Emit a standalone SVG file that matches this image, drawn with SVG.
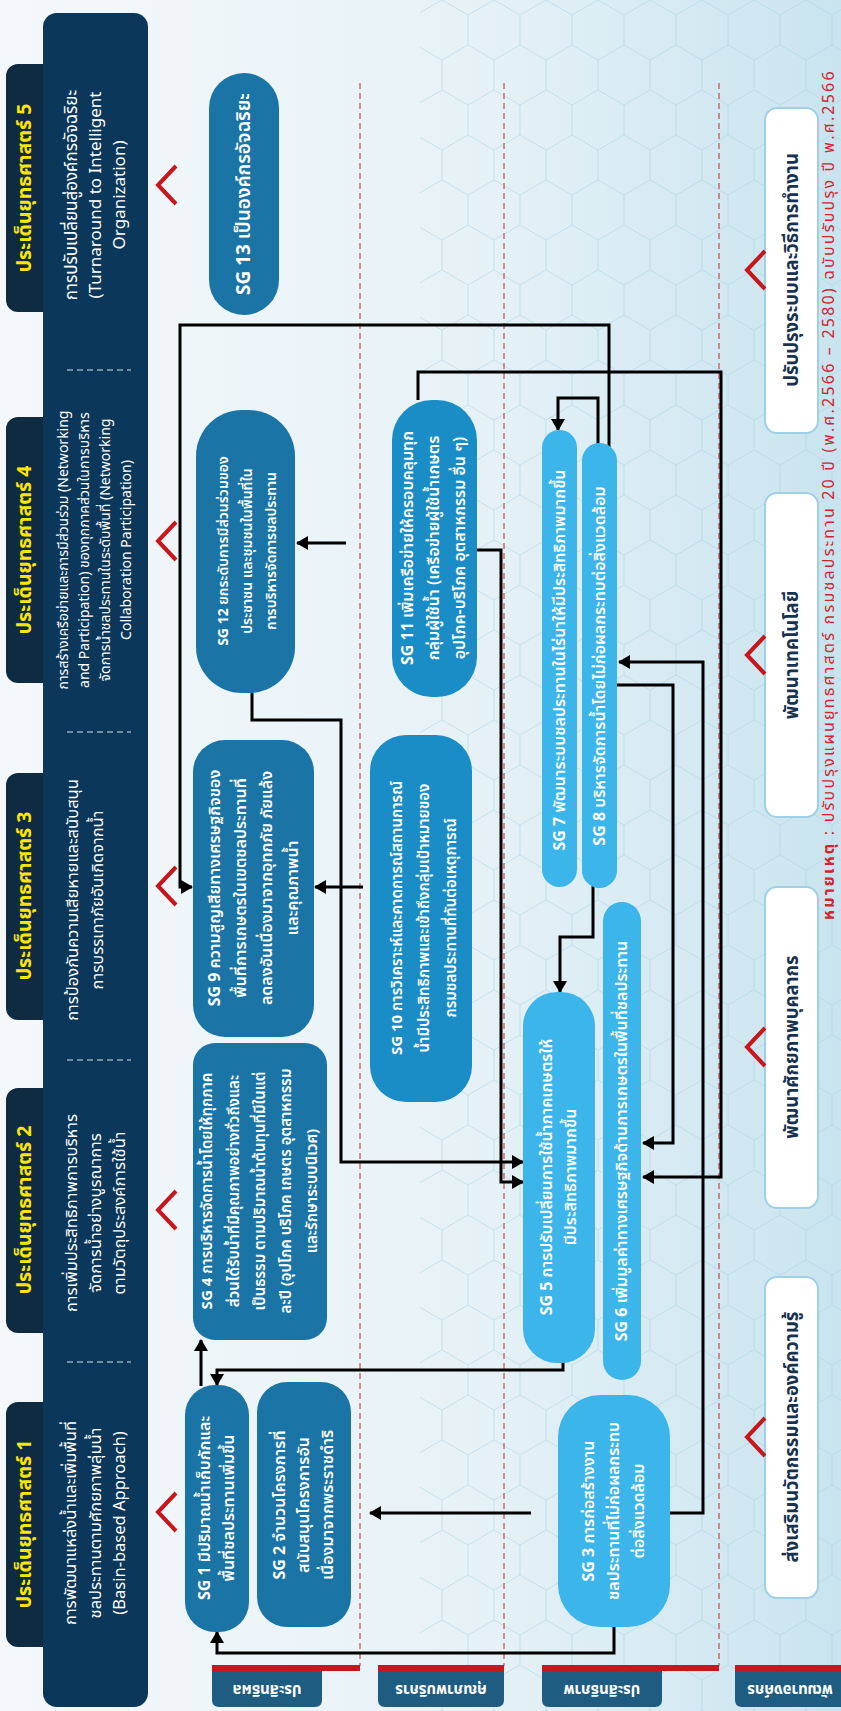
<svg xmlns="http://www.w3.org/2000/svg" width="841" height="1711" viewBox="0 0 841 1711">
<defs>
<linearGradient id="bg" x1="0" y1="0" x2="1" y2="0">
<stop offset="0" stop-color="#f4f8fb"/>
<stop offset="0.55" stop-color="#e7f2f7"/>
<stop offset="1" stop-color="#c9e4ef"/>
</linearGradient>
<pattern id="hex" width="52" height="90" patternUnits="userSpaceOnUse">
<path d="M26,0 L52,15 L52,45 L26,60 L0,45 L0,15 Z M26,60 L26,90" fill="none" stroke="#a3d0e1" stroke-width="1"/>
</pattern>
<marker id="ah" viewBox="0 0 12 14" refX="11" refY="7" markerWidth="12" markerHeight="14" markerUnits="userSpaceOnUse" orient="auto">
<path d="M0,0 L12,7 L0,14 Z" fill="#000"/>
</marker>
<style>
text, tspan { font-family: "Noto Sans Thai", "Noto Sans", "DejaVu Sans", sans-serif; dominant-baseline: central; }
.hdr { fill: #ffe600; font-weight: bold; font-size: 19.5px; text-anchor: middle; }
.desc { fill: #ffffff; font-size: 16.5px; text-anchor: middle; }
.sg { fill: #ffffff; font-size: 16px; font-weight: 600; text-anchor: middle; }
.b { font-weight: bold; }
.lbl { fill: #ffffff; font-size: 15px; font-weight: bold; text-anchor: middle; }
.btm { fill: #17324f; font-size: 18.5px; font-weight: bold; text-anchor: middle; }
.foot { fill: #d0262c; font-size: 16px; letter-spacing: 2.2px; }
.tab { fill: #0e2b41; }
.col { fill: #0b375a; }
.sep { stroke: #ffffff; stroke-width: 1.2; stroke-dasharray: 6 4; opacity: 0.85; }
.chev { fill: none; stroke: #c8161d; stroke-width: 4; }
.dash { stroke: #c62828; stroke-width: 1; stroke-dasharray: 6 4; }
.dk { fill: #1a74a5; }
.md { fill: #1b8dc6; }
.lt { fill: #3cb5ea; }
.wb { fill: #ffffff; stroke: #9fd0e6; stroke-width: 2; }
.rl { fill: #1e5c82; }
.rb { fill: #c8161d; }
.cn { fill: none; stroke: #000; stroke-width: 3; }
</style>
</defs>

<rect x="0" y="0" width="841" height="1711" fill="url(#bg)"/>
<rect x="420" y="0" width="421" height="1711" fill="url(#hex)" opacity="0.5"/>

<!-- strategy column -->
<g id="strategies">
<rect class="tab" x="6" y="64" width="50" height="248" rx="12"/>
<rect class="tab" x="6" y="417" width="50" height="266" rx="12"/>
<rect class="tab" x="6" y="773" width="50" height="247" rx="12"/>
<rect class="tab" x="6" y="1088" width="50" height="245" rx="12"/>
<rect class="tab" x="6" y="1402" width="50" height="245" rx="12"/>
<rect class="col" x="43" y="13" width="105" height="1694" rx="14"/>
<line class="sep" x1="67" y1="370" x2="131" y2="370"/>
<line class="sep" x1="67" y1="732" x2="131" y2="732"/>
<line class="sep" x1="67" y1="1060" x2="131" y2="1060"/>
<line class="sep" x1="67" y1="1362" x2="131" y2="1362"/>

<g id="s5">
<text class="hdr" transform="translate(25,188) rotate(-90)">ประเด็นยุทธศาสตร์ 5</text>
<text class="desc" transform="translate(95,195) rotate(-90)" style="font-size:17px"><tspan x="0" y="-23">การปรับเปลี่ยนสู่องค์กรอัจฉริยะ</tspan><tspan x="0" y="1">(Turnaround to Intelligent</tspan><tspan x="0" y="25">Organization)</tspan></text>
<polyline class="chev" points="176,166 158,185 176,204"/>
</g>
<g id="s4">
<text class="hdr" transform="translate(25,550) rotate(-90)">ประเด็นยุทธศาสตร์ 4</text>
<text class="desc" transform="translate(95,550) rotate(-90)" style="font-size:14px"><tspan x="0" y="-32">การสร้างเครือข่ายและการมีส่วนร่วม (Networking</tspan><tspan x="0" y="-11">and Participation) ของทุกภาคส่วนในการบริหาร</tspan><tspan x="0" y="10">จัดการน้ำชลประทานในระดับพื้นที่ (Networking</tspan><tspan x="0" y="31">Collaboration Participation)</tspan></text>
<polyline class="chev" points="176,522 158,541 176,560"/>
</g>
<g id="s3">
<text class="hdr" transform="translate(25,896) rotate(-90)">ประเด็นยุทธศาสตร์ 3</text>
<text class="desc" transform="translate(85,900) rotate(-90)"><tspan x="0" y="-13">การป้องกันความเสียหายและสนับสนุน</tspan><tspan x="0" y="12">การบรรเทาภัยอันเกิดจากน้ำ</tspan></text>
<polyline class="chev" points="176,867 158,886 176,905"/>
</g>
<g id="s2">
<text class="hdr" transform="translate(25,1210) rotate(-90)">ประเด็นยุทธศาสตร์ 2</text>
<text class="desc" transform="translate(95,1213) rotate(-90)"><tspan x="0" y="-24">การเพิ่มประสิทธิภาพการบริหาร</tspan><tspan x="0" y="0">จัดการน้ำอย่างบูรณาการ</tspan><tspan x="0" y="24">ตามวัตถุประสงค์การใช้น้ำ</tspan></text>
<polyline class="chev" points="176,1191 158,1210 176,1229"/>
</g>
<g id="s1">
<text class="hdr" transform="translate(25,1524) rotate(-90)">ประเด็นยุทธศาสตร์ 1</text>
<text class="desc" transform="translate(95,1523) rotate(-90)"><tspan x="0" y="-25">การพัฒนาแหล่งน้ำและเพิ่มพื้นที่</tspan><tspan x="0" y="0">ชลประทานตามศักยภาพลุ่มน้ำ</tspan><tspan x="0" y="24">(Basin-based Approach)</tspan></text>
<polyline class="chev" points="176,1493 158,1512 176,1531"/>
</g>
</g>

<!-- row dividers -->
<g id="dividers">
<line class="dash" x1="360" y1="83" x2="360" y2="1666"/>
<line class="dash" x1="504" y1="83" x2="504" y2="1666"/>
<line class="dash" x1="719" y1="83" x2="719" y2="1666"/>
</g>

<!-- connectors -->
<g id="connectors">
<path class="cn" d="M609,447 V325 H180 V887 H192" marker-end="url(#ah)"/>
<path class="cn" d="M598,447 V398 H558 V430" marker-end="url(#ah)"/>
<path class="cn" d="M346,543 H297" marker-end="url(#ah)"/>
<path class="cn" d="M418,400 V372 H721 V1177 H643" marker-end="url(#ah)"/>
<path class="cn" d="M477,550 H501 V1182 H523" marker-end="url(#ah)"/>
<path class="cn" d="M252,693 V720 H341 V1162 H523" marker-end="url(#ah)"/>
<path class="cn" d="M363,887 H315" marker-end="url(#ah)"/>
<path class="cn" d="M593,886 V937 H560 V992" marker-end="url(#ah)"/>
<path class="cn" d="M617,685 H673 V1143 H643" marker-end="url(#ah)"/>
<path class="cn" d="M670,1513 H703 V662 H619" marker-end="url(#ah)"/>
<path class="cn" d="M563,1360 V1370 H217 V1385" marker-end="url(#ah)"/>
<path class="cn" d="M201,1386 V1340" marker-end="url(#ah)"/>
<path class="cn" d="M531,1513 H370" marker-end="url(#ah)"/>
<path class="cn" d="M614,1626 V1653 H217 V1632" marker-end="url(#ah)"/>
</g>

<!-- nodes -->
<g id="sg13">
<rect class="dk" x="209" y="73" width="70" height="242" rx="35"/>
<text class="sg" transform="translate(244,194) rotate(-90)" style="font-size:19px"><tspan class="b">SG 13</tspan> เป็นองค์กรอัจฉริยะ</text>
</g>
<g id="sg12">
<rect class="dk" x="196" y="410" width="99" height="283" rx="46"/>
<text class="sg" transform="translate(247,551) rotate(-90)" style="font-size:14px"><tspan x="0" y="-24"><tspan class="b">SG 12</tspan> ยกระดับการมีส่วนร่วมของ</tspan><tspan x="0" y="0">ประชาชน และชุมชนในพื้นที่ใน</tspan><tspan x="0" y="24">การบริหารจัดการชลประทาน</tspan></text>
</g>
<g id="sg11">
<rect class="md" x="392" y="400" width="85" height="297" rx="40"/>
<text class="sg" transform="translate(434,548) rotate(-90)" style="font-size:16px"><tspan x="0" y="-26"><tspan class="b">SG 11</tspan> เพิ่มเครือข่ายให้ครอบคลุมทุก</tspan><tspan x="0" y="0">กลุ่มผู้ใช้น้ำ (เครือข่ายผู้ใช้น้ำเกษตร</tspan><tspan x="0" y="26">อุปโภค-บริโภค อุตสาหกรรม อื่น ๆ)</tspan></text>
</g>
<g id="sg9">
<rect class="dk" x="193" y="740" width="121" height="297" rx="32"/>
<text class="sg" transform="translate(254,888) rotate(-90)" style="font-size:16px"><tspan x="0" y="-39"><tspan class="b">SG 9</tspan> ความสูญเสียทางเศรษฐกิจของ</tspan><tspan x="0" y="-13">พื้นที่การเกษตรในเขตชลประทานที่</tspan><tspan x="0" y="13">ลดลงอันเนื่องมาจากอุทกภัย ภัยแล้ง</tspan><tspan x="0" y="39">และคุณภาพน้ำ</tspan></text>
</g>
<g id="sg10">
<rect class="md" x="370" y="735" width="102" height="367" rx="36"/>
<text class="sg" transform="translate(424,918) rotate(-90)" style="font-size:15px"><tspan x="0" y="-27"><tspan class="b">SG 10</tspan> การวิเคราะห์และคาดการณ์สถานการณ์</tspan><tspan x="0" y="0">น้ำมีประสิทธิภาพและเข้าถึงกลุ่มเป้าหมายของ</tspan><tspan x="0" y="27">กรมชลประทานที่ทันต่อเหตุการณ์</tspan></text>
</g>
<g id="sg4">
<rect class="dk" x="193" y="1043" width="134" height="297" rx="22"/>
<text class="sg" transform="translate(260,1191) rotate(-90)" style="font-size:15px"><tspan x="0" y="-53"><tspan class="b">SG 4</tspan> การบริหารจัดการน้ำโดยให้ทุกภาค</tspan><tspan x="0" y="-26">ส่วนได้รับน้ำที่มีคุณภาพอย่างทั่วถึงและ</tspan><tspan x="0" y="0">เป็นธรรม ตามปริมาณน้ำต้นทุนที่มีในแต่</tspan><tspan x="0" y="26">ละปี (อุปโภค บริโภค เกษตร อุตสาหกรรม</tspan><tspan x="0" y="52">และรักษาระบบนิเวศ)</tspan></text>
</g>
<g id="sg7">
<rect class="lt" x="542" y="430" width="35" height="457" rx="17.5"/>
<text class="sg" transform="translate(559.5,660) rotate(-90)" style="font-size:16px"><tspan class="b">SG 7</tspan> พัฒนาระบบชลประทานในไร่นาให้มีประสิทธิภาพมากขึ้น</text>
</g>
<g id="sg8">
<rect class="lt" x="582" y="443" width="35" height="445" rx="17.5"/>
<text class="sg" transform="translate(599.5,666) rotate(-90)" style="font-size:16px"><tspan class="b">SG 8</tspan> บริหารจัดการน้ำโดยไม่ก่อผลกระทบต่อสิ่งแวดล้อม</text>
</g>
<g id="sg5">
<rect class="lt" x="523" y="992" width="72" height="371" rx="34"/>
<text class="sg" transform="translate(559,1177) rotate(-90)" style="font-size:16px"><tspan x="0" y="-12"><tspan class="b">SG 5</tspan> การปรับเปลี่ยนการใช้น้ำภาคเกษตรให้</tspan><tspan x="0" y="12">มีประสิทธิภาพมากขึ้น</tspan></text>
</g>
<g id="sg6">
<rect class="lt" x="603" y="902" width="38" height="478" rx="19"/>
<text class="sg" transform="translate(622,1141) rotate(-90)" style="font-size:16px"><tspan class="b">SG 6</tspan> เพิ่มมูลค่าทางเศรษฐกิจด้านการเกษตรในพื้นที่ชลประทาน</text>
</g>
<g id="sg1">
<rect class="dk" x="185" y="1385" width="64" height="247" rx="30"/>
<text class="sg" transform="translate(217,1508) rotate(-90)" style="font-size:16px"><tspan x="0" y="-12"><tspan class="b">SG 1</tspan> มีปริมาณน้ำเก็บกักและ</tspan><tspan x="0" y="12">พื้นที่ชลประทานเพิ่มขึ้น</tspan></text>
</g>
<g id="sg2">
<rect class="dk" x="257" y="1382" width="94" height="245" rx="30"/>
<text class="sg" transform="translate(304,1505) rotate(-90)" style="font-size:16px"><tspan x="0" y="-24"><tspan class="b">SG 2</tspan> จำนวนโครงการที่</tspan><tspan x="0" y="0">สนับสนุนโครงการอัน</tspan><tspan x="0" y="24">เนื่องมาจากพระราชดำริ</tspan></text>
</g>
<g id="sg3">
<rect class="lt" x="558" y="1395" width="112" height="232" rx="42"/>
<text class="sg" transform="translate(614,1511) rotate(-90)" style="font-size:16px"><tspan x="0" y="-25"><tspan class="b">SG 3</tspan> การก่อสร้างงาน</tspan><tspan x="0" y="0">ชลประทานที่ไม่ก่อผลกระทบ</tspan><tspan x="0" y="25">ต่อสิ่งแวดล้อม</tspan></text>
</g>

<!-- row labels -->
<g id="rowlabels">
<rect class="rb" x="212" y="1665" width="148" height="6"/>
<path class="rl" d="M212,1671 H322 V1700 Q322,1707 315,1707 H219 Q212,1707 212,1700 Z"/>
<text class="lbl" transform="translate(267,1689) rotate(180)">ประสิทธิผล</text>
<rect class="rb" x="378" y="1665" width="126" height="6"/>
<path class="rl" d="M378,1671 H504 V1700 Q504,1707 497,1707 H385 Q378,1707 378,1700 Z"/>
<text class="lbl" transform="translate(441,1689) rotate(180)">คุณภาพบริการ</text>
<rect class="rb" x="542" y="1665" width="177" height="6"/>
<path class="rl" d="M542,1671 H662 V1700 Q662,1707 655,1707 H549 Q542,1707 542,1700 Z"/>
<text class="lbl" transform="translate(602,1689) rotate(180)">ประสิทธิภาพ</text>
<rect class="rb" x="735" y="1665" width="106" height="6"/>
<path class="rl" d="M735,1671 H841 V1707 H742 Q735,1707 735,1700 Z"/>
<text class="lbl" transform="translate(790,1689) rotate(180)">พัฒนาองค์กร</text>
</g>

<!-- foundation boxes -->
<g id="b1">
<rect class="wb" x="765" y="108" width="53" height="325" rx="12"/>
<text class="btm" transform="translate(791.5,270) rotate(-90)">ปรับปรุงระบบและวิธีการทำงาน</text>
<polyline class="chev" points="765,251 747,270 765,289"/>
</g>
<g id="b2">
<rect class="wb" x="765" y="493" width="53" height="324" rx="12"/>
<text class="btm" transform="translate(791.5,655) rotate(-90)">พัฒนาเทคโนโลยี</text>
<polyline class="chev" points="765,636 747,655 765,674"/>
</g>
<g id="b3">
<rect class="wb" x="765" y="887" width="53" height="321" rx="12"/>
<text class="btm" transform="translate(791.5,1047) rotate(-90)">พัฒนาศักยภาพบุคลากร</text>
<polyline class="chev" points="765,1028 747,1047 765,1066"/>
</g>
<g id="b4">
<rect class="wb" x="765" y="1277" width="53" height="321" rx="12"/>
<text class="btm" transform="translate(791.5,1437) rotate(-90)">ส่งเสริมนวัตกรรมและองค์ความรู้</text>
<polyline class="chev" points="765,1418 747,1437 765,1456"/>
</g>

<g id="footer">
<text class="foot" transform="translate(829,920) rotate(-90)"><tspan class="b">หมายเหตุ</tspan> : ปรับปรุงแผนยุทธศาสตร์ กรมชลประทาน 20 ปี (พ.ศ.2566 – 2580) ฉบับปรับปรุง ปี พ.ศ.2566</text>
</g>
</svg>
